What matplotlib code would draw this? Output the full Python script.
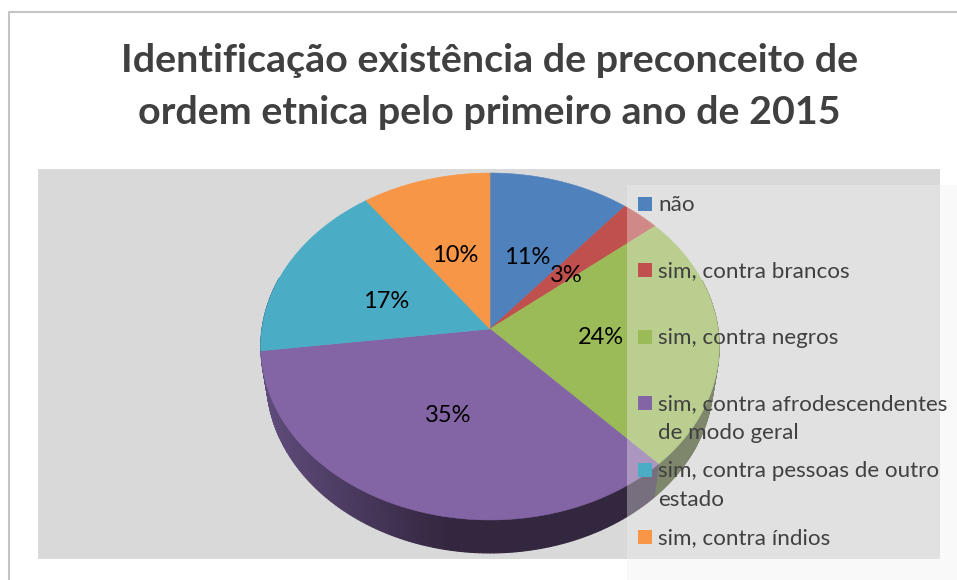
import numpy as np
import matplotlib
matplotlib.use('Agg')
import matplotlib.pyplot as plt
from matplotlib.patches import Polygon, Rectangle

title_lines = ["Identificação existência de preconceito de",
               "ordem etnica pelo primeiro ano de 2015"]
categories = ["não", "sim, contra brancos", "sim, contra negros",
              "sim, contra afrodescendentes\nde modo geral",
              "sim, contra pessoas de outro\nestado", "sim, contra índios"]
shares = [11, 3, 24, 35, 17, 10]
colors = ["#4f81bd", "#c0504d", "#9bbb59", "#8364a4", "#4bacc6", "#f79646"]
side_light = ["#3c5f8a", "#8c3a38", "#4c5a2a", "#5f4c7c", "#357d90", "#b56e33"]
side_dark = ["#2b4463", "#642a28", "#3f4c22", "#33263f", "#265a68", "#824f25"]

# pie centre and tilt, in pixels
cx, cy = 490, 329
rad_x, rad_y, tilt = 228, 171.7, 0.1008
depth = 33
base_shrink = 0.975


def project(theta):
    w = 1 + tilt * np.cos(theta)
    return cx + rad_x * np.sin(theta) / w, cy - rad_y * np.cos(theta) / w


fig = plt.figure(figsize=(9.57, 5.8), dpi=100)
ax = fig.add_axes([0, 0, 1, 1])
ax.set_xlim(0, 957)
ax.set_ylim(580, 0)
ax.axis('off')

# chart frame and grey plot area
ax.plot([9, 9, 957], [580, 12, 12], color="#c4c4c4", lw=1.5, zorder=1)
ax.add_patch(Rectangle((38, 169), 902, 390, fc="#d9d9d9", ec='none', zorder=1))

edges = np.cumsum([0] + shares) / sum(shares) * 2 * np.pi

# side of the pie, split in strips for the shading, the top covers what is left over
for i in range(len(shares)):
    th = np.linspace(edges[i], edges[i + 1], 150)
    xs, ys = project(th)
    low_x = cx + (xs - cx) * base_shrink
    low_y = ys + depth
    for j in range(len(th) - 1):
        if np.cos(th[j]) > 0.3:
            continue
        f = np.clip((xs[j] - 261) / 190, 0, 1)
        c1 = np.array(matplotlib.colors.to_rgb(side_light[i]))
        c2 = np.array(matplotlib.colors.to_rgb(side_dark[i]))
        col = c1 * (1 - f) + c2 * f
        quad = [(xs[j], ys[j]), (xs[j + 1], ys[j + 1]),
                (low_x[j + 1], low_y[j + 1]), (low_x[j], low_y[j])]
        ax.add_patch(Polygon(quad, fc=col, ec=col, lw=0.8, zorder=2))

# top of the pie
for i in range(len(shares)):
    th = np.linspace(edges[i], edges[i + 1], 120)
    xs, ys = project(th)
    pts = np.column_stack([np.r_[cx, xs], np.r_[cy, ys]])
    ax.add_patch(Polygon(pts, fc=colors[i], ec=colors[i], lw=0.4, zorder=3))

# percent labels
label_x = [527, 566, 601, 448, 386, 455]
label_y = [257, 275, 338, 415, 301, 255]
for i in range(len(shares)):
    ax.text(label_x[i], label_y[i], "%d%%" % shares[i], ha='center', va='center',
            family='Lato', fontsize=17, color='black', zorder=4)

# legend panel, see-through over the pie
ax.add_patch(Rectangle((627, 185), 330, 395, fc="#f0f0f0", alpha=0.36, ec='none', zorder=5))
leg_y = [204, 270, 337, 403, 470, 537]
for i in range(len(categories)):
    ax.add_patch(Rectangle((638, leg_y[i] - 7), 14, 14, fc=colors[i], ec='none', zorder=6))
    ax.text(658, leg_y[i] + 1, categories[i].split("\n")[0], ha='left', va='center',
            family='Lato', fontsize=16.1, color="#404040", zorder=6)
    if "\n" in categories[i]:
        ax.text(658, leg_y[i] + 30, categories[i].split("\n")[1], ha='left', va='center',
                family='Lato', fontsize=16.1, color="#404040", zorder=6)

ax.text(489.5, 60, title_lines[0], ha='center', va='center', family='Lato', weight='bold',
        fontsize=28.4, color="#404040", zorder=6)
ax.text(489, 113, title_lines[1], ha='center', va='center', family='Lato', weight='bold',
        fontsize=28.4, color="#404040", zorder=6)

fig.savefig('out.png', dpi=100)
plt.close()
